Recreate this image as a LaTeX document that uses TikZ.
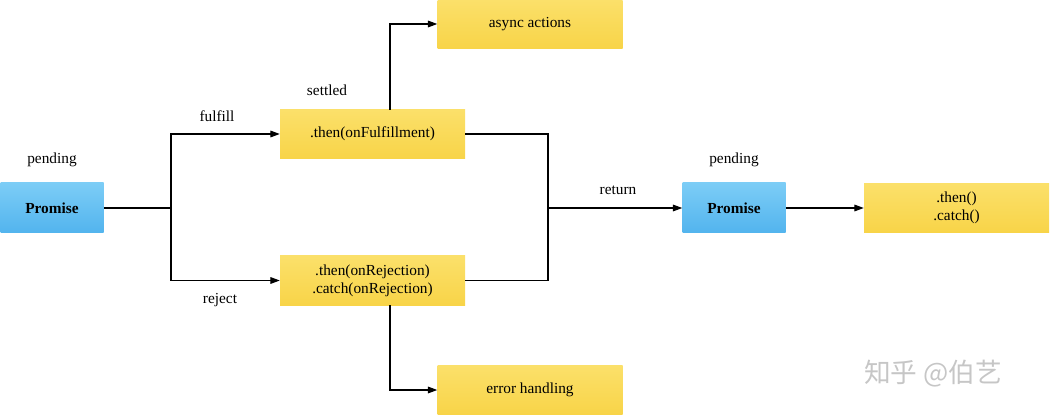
\documentclass[tikz,border=0pt]{standalone}
\usepackage{fontspec}
\setmainfont{Liberation Serif}
\newfontfamily\cjk{Noto Sans CJK SC}
\usetikzlibrary{arrows.meta}
\definecolor{ylw}{HTML}{FBE06A}
\definecolor{ylwd}{HTML}{F8D448}
\definecolor{blu}{HTML}{7CCDF6}
\definecolor{blud}{HTML}{52B4EE}
\begin{document}
\begin{tikzpicture}[x=0.75pt,y=-0.75pt,
  every node/.style={font=\fontsize{11.5}{13.5}\selectfont},
  yb/.style={draw=none,top color=ylw,bottom color=ylwd,minimum width=138.75pt,minimum height=36.75pt,align=center,inner sep=0},
  bb/.style={draw=none,top color=blu,bottom color=blud,minimum width=77.25pt,minimum height=37.5pt,font=\fontsize{11.5}{13.5}\selectfont\bfseries},
  ln/.style={line width=0.8pt},
  ar/.style={ln,-{Triangle[length=7pt,width=5pt]}}]
\useasboundingbox (0,0) rectangle (1050,417);
\node[bb] (p1) at (52,208) {Promise};
\node[yb] (f) at (372.5,134) {.then(onFulfillment)};
\node[yb] (r) at (372.5,280.5) {.then(onRejection)\\.catch(onRejection)};
\node[yb] (a) at (530,24) {async actions};
\node[yb] (e) at (530,390) {error handling};
\node[bb] (p2) at (734,208) {Promise};
\node[yb] (tc) at (956.5,208) {.then()\\.catch()};
\coordinate (s) at (171,208);
\coordinate (m) at (548,208);
\coordinate (fu) at (390,110);
\coordinate (rd) at (390,305);
\node (l1) at (52,160) {pending};
\node (l2) at (327,90) {settled};
\node (l3) at (217,116) {fulfill};
\node (l4) at (220,300) {reject};
\node (l5) at (618,190) {return};
\node (l6) at (734,160) {pending};
\node[text=gray!45,font=\cjk\fontsize{20}{21}\selectfont] (wm) at (933,374) {知乎 @伯艺};
\draw[ln] (p1.east) -- (s);
\draw[ar] (s) |- (f.west);
\draw[ar] (s) |- (r.west);
\draw[ln] (f.east) -| (m);
\draw[ln] (r.east) -| (m);
\draw[ar] (m) -- (p2.west);
\draw[ar] (p2.east) -- (tc.west);
\draw[ar] (fu) |- (a.west);
\draw[ar] (rd) |- (e.west);
\end{tikzpicture}
\end{document}
